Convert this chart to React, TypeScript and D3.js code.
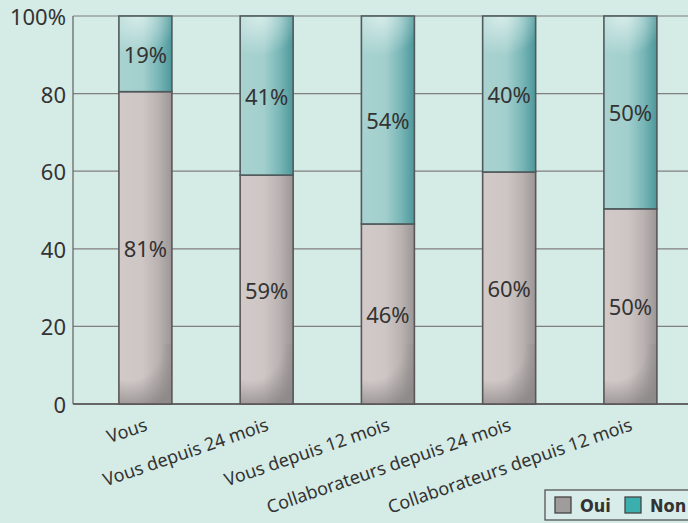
import React from "react";
import * as d3 from "d3";

const categories = [
  "Vous",
  "Vous depuis 24 mois",
  "Vous depuis 12 mois",
  "Collaborateurs depuis 24 mois",
  "Collaborateurs depuis 12 mois",
];
const ouiValues = [80.5, 59, 46.4, 59.8, 50.3];
const nonValues = [19.5, 41, 53.6, 40.2, 49.7];
const ouiLabels = ["81%", "59%", "46%", "60%", "50%"];
const nonLabels = ["19%", "41%", "54%", "40%", "50%"];
const yTicks = [0, 20, 40, 60, 80, 100];
const yTickLabels = ["0", "20", "40", "60", "80", "100%"];
const legendItems = ["Oui", "Non"];

const W = 688;
const H = 523;
const FONT = "'Noto Sans', 'Open Sans', sans-serif";
const FONT_C = "'DejaVu Sans Condensed', 'DejaVu Sans', sans-serif";
const BG = "#d5ebe6";
const TXT = "#333333";

export default function App() {
  const x = d3
    .scaleBand<string>()
    .domain(categories)
    .range([73, 702.8])
    .paddingInner(0.563)
    .paddingOuter(0.3786);
  const y = d3.scaleLinear().domain([0, 100]).range([404, 16]);
  const bw = x.bandwidth();

  const stack = categories.map((c, i) => ({
    c,
    oui: [0, ouiValues[i]],
    non: [ouiValues[i], ouiValues[i] + nonValues[i]],
  }));

  return (
    <div style={{ position: "fixed", left: 0, top: 0 }}>
      <svg width={W} height={H} style={{ display: "block", fontFamily: FONT }}>
        <defs>
          <linearGradient id="ouiG" x1="0" y1="0" x2="1" y2="0">
            <stop offset="0%" stopColor="#d2cac9" />
            <stop offset="45%" stopColor="#cec6c5" />
            <stop offset="75%" stopColor="#b9b2b1" />
            <stop offset="100%" stopColor="#9b9595" />
          </linearGradient>
          <radialGradient id="ouiShade" cx="0.2" cy="0" r="1.1" fx="0.2" fy="0">
            <stop offset="55%" stopColor="#8d8888" stopOpacity="0" />
            <stop offset="100%" stopColor="#8d8888" stopOpacity="0.9" />
          </radialGradient>
          <linearGradient id="nonG" x1="0" y1="0" x2="1" y2="0">
            <stop offset="0%" stopColor="#a8d2d0" />
            <stop offset="45%" stopColor="#a2cfcd" />
            <stop offset="75%" stopColor="#78b6b7" />
            <stop offset="100%" stopColor="#4d979a" />
          </linearGradient>
          <radialGradient id="nonHi" cx="0.35" cy="0" r="0.8">
            <stop offset="0%" stopColor="#e2f2ef" stopOpacity="0.8" />
            <stop offset="100%" stopColor="#e2f2ef" stopOpacity="0" />
          </radialGradient>
        </defs>
        <rect x={0} y={0} width={W} height={H} fill={BG} />

        {yTicks.map((t) => (
          <line
            key={"g" + t}
            x1={73}
            x2={W}
            y1={y(t)}
            y2={y(t)}
            stroke={t === 0 ? "#666" : "#808080"}
            strokeWidth={t === 0 ? 2.2 : 1.2}
          />
        ))}
        <line x1={73} x2={73} y1={y(100)} y2={y(0)} stroke="#6a6a6a" strokeWidth={1.3} />

        {yTicks.map((t, i) => (
          <text
            key={"t" + t}
            x={66}
            y={y(t)}
            textAnchor="end"
            dominantBaseline="central"
            fontSize={22}
            fill={TXT}
          >
            {yTickLabels[i]}
          </text>
        ))}

        {stack.map((d, i) => {
          const x0 = x(d.c)!;
          const yOuiTop = y(d.oui[1]);
          const yNonTop = y(d.non[1]);
          const y0 = y(0);
          return (
            <g key={d.c}>
              <rect x={x0} y={yOuiTop} width={bw} height={y0 - yOuiTop} fill="url(#ouiG)" />
              <rect x={x0} y={y0 - 60} width={bw} height={60} fill="url(#ouiShade)" />
              <rect
                x={x0}
                y={yOuiTop}
                width={bw}
                height={y0 - yOuiTop}
                fill="none"
                stroke="#5a5658"
                strokeWidth={1.6}
              />
              <rect x={x0} y={yNonTop} width={bw} height={yOuiTop - yNonTop} fill="url(#nonG)" />
              <rect x={x0} y={yNonTop} width={bw} height={50} fill="url(#nonHi)" />
              <rect
                x={x0}
                y={yNonTop}
                width={bw}
                height={yOuiTop - yNonTop}
                fill="none"
                stroke="#4f5a5c"
                strokeWidth={1.6}
              />
              <text
                x={x0 + bw / 2}
                y={(yOuiTop + y0) / 2}
                textAnchor="middle"
                dominantBaseline="central"
                fontSize={22}
                fill={TXT}
              >
                {ouiLabels[i]}
              </text>
              <text
                x={x0 + bw / 2}
                y={(yNonTop + yOuiTop) / 2}
                textAnchor="middle"
                dominantBaseline="central"
                fontSize={22}
                fill={TXT}
              >
                {nonLabels[i]}
              </text>
            </g>
          );
        })}

        {categories.map((c) => {
          const cx = x(c)! + bw / 2 + 3;
          return (
            <text
              key={"c" + c}
              transform={`translate(${cx},430) rotate(-19)`}
              textAnchor="end"
              fontSize={18}
              fill={TXT}
            >
              {c}
            </text>
          );
        })}

        <rect x={545} y={490} width={150} height={30} fill="#d8ede9" stroke="#555" strokeWidth={1.3} />
        {legendItems.map((l, i) => {
          const lx = 555 + i * 70;
          return (
            <g key={l}>
              <rect
                x={lx}
                y={497}
                width={16}
                height={16}
                fill={i === 0 ? "#a19c9c" : "#3aafad"}
                stroke="#444"
                strokeWidth={1.3}
              />
              <text
                x={lx + 25}
                y={505}
                dominantBaseline="central"
                fontSize={18}
                fontWeight="bold"
                fontFamily={FONT_C}
                fill={TXT}
              >
                {l}
              </text>
            </g>
          );
        })}
      </svg>
    </div>
  );
}
